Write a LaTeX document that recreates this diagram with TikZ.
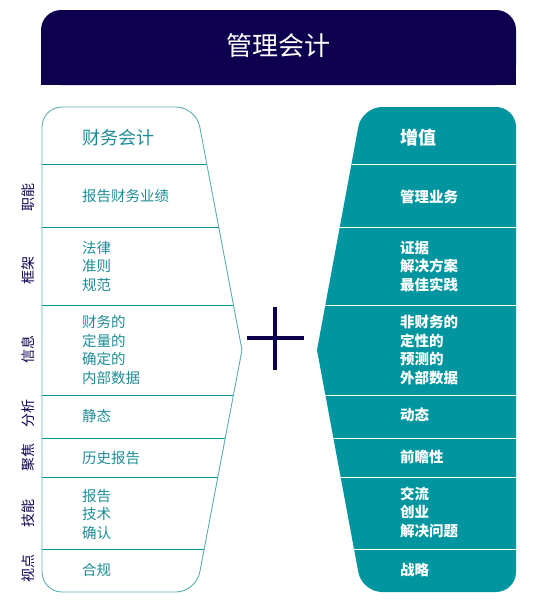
\documentclass[tikz,border=0pt]{standalone}
\usepackage{fontspec}
\setmainfont{Noto Sans CJK SC}
\definecolor{navy}{HTML}{0E004F}
\definecolor{macteal}{HTML}{00959F}
\definecolor{lefttxt}{HTML}{1E8C96}
\definecolor{leftline}{HTML}{5AADB4}

\begin{document}
\begin{tikzpicture}[x=1pt, y=-1pt,
  lefttext/.style={anchor=west, align=left, inner xsep=0pt, text=lefttxt, font=\fontsize{14.5}{18.5}\selectfont},
  righttext/.style={anchor=west, align=left, inner xsep=0pt, text=white, font=\bfseries\fontsize{14.5}{18.5}\selectfont},
  sidelabel/.style={rotate=90, text=navy, font=\fontsize{14}{16}\selectfont},
  rowline/.style={line width=0.9pt}]
\useasboundingbox (0,0) rectangle (535,616);

\fill[navy, rounded corners=20pt] (41,10) rectangle (516,85);
\fill[navy] (41,50) rectangle (516,85);
\node (title) at (278.5,46) [text=white, font=\fontsize{26}{30}\selectfont] {管理会计};

\begin{scope}
\clip[rounded corners=20pt] (242,350) -- (196,107) -- (42,107) -- (42,592) -- (196,592) -- (242,350);
\foreach \y in {164,227,305,395,438,477,549}
  \draw[rowline, macteal] (0,\y) -- (535,\y);
\end{scope}
\draw[leftline, line width=0.9pt, line cap=round, rounded corners=20pt] (242,350) -- (196,107) -- (42,107) -- (42,592) -- (196,592) -- (242,350);

\fill[macteal, rounded corners=20pt] (317,350) -- (362,107) -- (516,107) -- (516,592) -- (362,592) -- (317,350);
\begin{scope}
\clip[rounded corners=20pt] (317,350) -- (362,107) -- (516,107) -- (516,592) -- (362,592) -- (317,350);
\foreach \y in {164,227,305,395,438,477,549}
  \draw[rowline, white] (0,\y) -- (535,\y);
\end{scope}

\draw[navy, line width=4.5pt] (247,338) -- (304,338) (275,307) -- (275,370);

\node (fa) at (82,138) [lefttext, font=\fontsize{18}{22}\selectfont] {财务会计};
\node (report) at (82,196) [lefttext] {报告财务业绩};
\node (law) at (82,266) [lefttext] {法律\\准则\\规范};
\node (internal) at (82,350) [lefttext] {财务的\\定量的\\确定的\\内部数据};
\node (static) at (82,416) [lefttext] {静态};
\node (history) at (82,458) [lefttext] {历史报告};
\node (skills) at (82,514) [lefttext] {报告\\技术\\确认};
\node (comply) at (82,570) [lefttext] {合规};

\node (value) at (400,138) [righttext, font=\bfseries\fontsize{18}{22}\selectfont] {增值};
\node (manage) at (400,197) [righttext] {管理业务};
\node (evidence) at (400,266) [righttext] {证据\\解决方案\\最佳实践};
\node (external) at (400,350) [righttext] {非财务的\\定性的\\预测的\\外部数据};
\node (dynamic) at (400,415) [righttext] {动态};
\node (forward) at (400,457) [righttext] {前瞻性};
\node (solve) at (400,512) [righttext] {交流\\创业\\解决问题};
\node (strategy) at (400,570) [righttext] {战略};

\node (function) at (28,197) [sidelabel] {职能};
\node (frame) at (28,270) [sidelabel] {框架};
\node (info) at (28,349) [sidelabel] {信息};
\node (analysis) at (28,413) [sidelabel] {分析};
\node (focus) at (28,457) [sidelabel] {聚焦};
\node (skill) at (28,513) [sidelabel] {技能};
\node (view) at (28,568) [sidelabel] {视点};
\end{tikzpicture}
\end{document}
